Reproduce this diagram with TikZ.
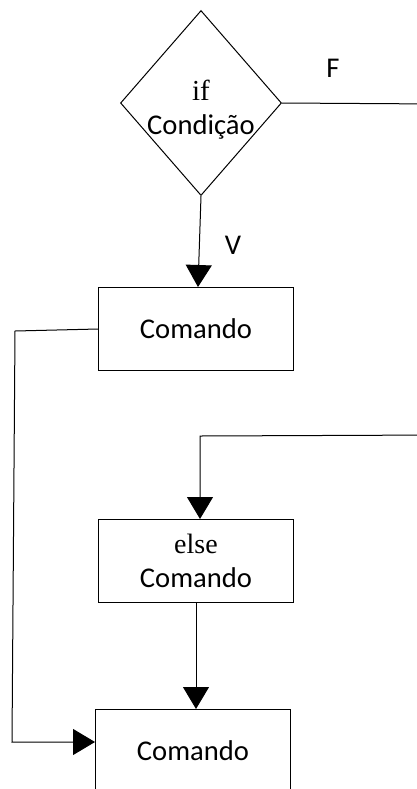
\documentclass[tikz,border=0pt]{standalone}
\usepackage{fontspec}
\setmainfont{Carlito}
\newfontfamily\serifif{Liberation Serif}
\usetikzlibrary{shapes.geometric, arrows.meta, positioning}

\begin{document}
\begin{tikzpicture}[x=0.5pt, y=-0.5pt,
    bloco/.style={draw, line width=0.5pt, minimum width=97.5pt, minimum height=41.5pt,
                  align=center, inner sep=0pt, font=\fontsize{14.3}{17}\selectfont},
    decisao/.style={draw, diamond, aspect=0.87, line width=0.5pt, minimum width=80.5pt,
                    minimum height=92.5pt, inner sep=0pt,
                    font=\fontsize{14.3}{17}\selectfont},
    seta/.style={-{Triangle[length=11pt, width=13pt]}, line width=0.5pt},
    rotulo/.style={font=\fontsize{14.3}{17}\selectfont}]
  \useasboundingbox (0,0) rectangle (417,789);
  \clip (0,0) rectangle (417,789);

  % decisao
  \node[decisao] (cond) at (201,103)
    {\raisebox{-7.5pt}[14pt][14pt]{\begin{tabular}{@{}c@{}}{\serifif\fontsize{14.5}{15}\selectfont if}\\Condição\end{tabular}}};
  \node[rotulo] (rotF) at (333,68) {F};
  \node[rotulo] (rotV) at (233,245) {V};

  % comandos
  \node[bloco] (cmd1) at (196,329) {Comando};
  \node[bloco] (cmd2) at (196,561) {{\serifif\fontsize{14}{15}\selectfont else}\\Comando};
  \node[bloco] (cmd3) at (193,751) {Comando};

  \coordinate (fora1) at (440,104);
  \coordinate (fora2) at (440,435);
  \coordinate (canto) at (200,436);
  \coordinate (esqA) at (15,331);
  \coordinate (esqB) at (12,742);

  % ligacoes
  \draw[seta] (cond.south) -- ([xshift=1pt]cmd1.north);
  \draw[seta] (cond.east) -- (fora1) -- (fora2) -- (canto) -- (canto |- cmd2.north);
  \draw[seta] (cmd1.west) -- (esqA) -- (esqB) -- (cmd3.west |- esqB);
  \draw[seta] (cmd2.south) -- (cmd2.south |- cmd3.north);
\end{tikzpicture}
\end{document}
